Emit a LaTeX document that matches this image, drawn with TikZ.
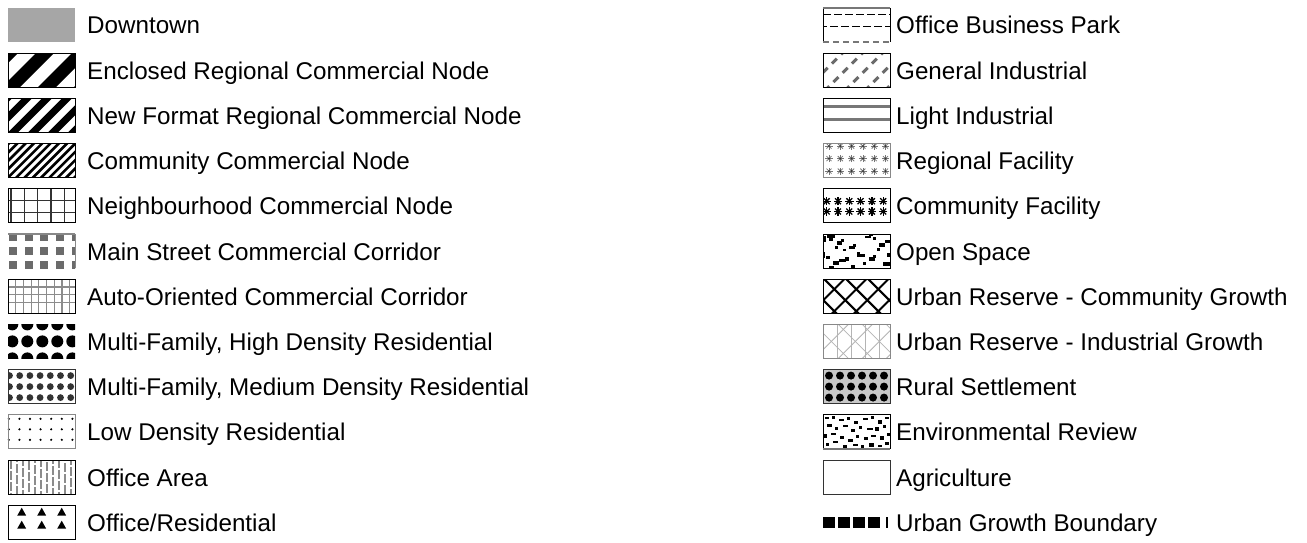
\documentclass[tikz,border=0pt]{standalone}
\usepackage{fontspec}
\setmainfont{Liberation Sans}
\definecolor{dtgray}{HTML}{A6A6A6}
\definecolor{msgray}{HTML}{6B6B6B}
\definecolor{grdgray}{HTML}{8C8C8C}
\definecolor{brdgray}{HTML}{888888}
\definecolor{lingray}{HTML}{777777}
\definecolor{ltgray}{HTML}{B4B4B4}
\definecolor{rsgray}{HTML}{C8C8C8}
\definecolor{darkdot}{HTML}{333333}
\newcommand\myast[3]{\foreach \aa in {0,45,90,135}{\draw (#1,#2) ++(\aa:#3) -- ++(\aa+180:2*#3);}}
\begin{document}
\begin{tikzpicture}[x=1pt,y=-1pt,
  lbl/.style={anchor=base west,inner sep=0pt,font=\fontsize{24.2}{28}\selectfont},
  bord/.style={draw=black,line width=1pt}]
\useasboundingbox (0,0) rectangle (1307,543);
\fill[white] (0,0) rectangle (1307,543);
% ---------------- LEFT COLUMN ----------------
% L0 Downtown
\begin{scope}[shift={(8,8)}]
\fill[dtgray] (0,0) rectangle (67,34);
\end{scope}
% L1 Enclosed
\begin{scope}[shift={(8,53.2)}]
\begin{scope}\clip (0,0) rectangle (67,34);
\foreach \c in {-33,3,39,75}{\draw[line width=12.7] (\c-6,40) -- ++(46,-46);}
\end{scope}
\draw[bord] (0,0) rectangle (67,34);
\end{scope}
% L2 New format
\begin{scope}[shift={(8,98.4)}]
\begin{scope}\clip (0,0) rectangle (67,34);
\foreach \c in {-35,-15,5,25,45,65,85}{\draw[line width=7] (\c-6,40) -- ++(46,-46);}
\end{scope}
\draw[bord] (0,0) rectangle (67,34);
\end{scope}
% L3 Community
\begin{scope}[shift={(8,143.6)}]
\begin{scope}\clip (0,0) rectangle (67,34);
\foreach \k in {-5,...,9}{\draw[line width=2.6] (\k*8.3-6,40) -- ++(46,-46);}
\end{scope}
\draw[bord] (0,0) rectangle (67,34);
\end{scope}
% L4 Neighbourhood
\begin{scope}[shift={(8,188.8)}]
\foreach \x in {3,16.3,29.6,42.9,56.2}{\draw[darkdot,line width=1.2] (\x,0) -- (\x,34);}
\foreach \y in {11.5,24}{\draw[darkdot,line width=1.2] (0,\y) -- (67,\y);}
\draw[bord] (0,0) rectangle (67,34);
\end{scope}
% L5 Main street
\begin{scope}[shift={(8,234)}]
\begin{scope}\clip (0,0) rectangle (67,34);
\foreach \x in {1,16.7,32.4,48.1,63.8}{\foreach \y in {-1,13,27}{\fill[msgray] (\x,\y) rectangle ++(8,8);}}
\end{scope}
\draw[brdgray,line width=1.5] (0,0) -- (67,0);
\draw[brdgray,line width=1] (67,0) -- (67,34);
\end{scope}
% L6 Auto-oriented
\begin{scope}[shift={(8,279.2)}]
\foreach \x in {7.7,15.4,...,62}{\draw[grdgray,line width=1.2] (\x,0) -- (\x,34);}
\foreach \y in {7.7,15.4,...,30}{\draw[grdgray,line width=1.2] (0,\y) -- (67,\y);}
\draw[bord] (0,0) rectangle (67,34);
\end{scope}
% L7 High density
\begin{scope}[shift={(8,324.4)}]
\begin{scope}\clip (0,0) rectangle (67,34);
\foreach \x in {4.3,19.3,34.3,49.3,64.3}{\foreach \y in {0,17,34}{\fill (\x,\y) circle[radius=6];}}
\end{scope}
\end{scope}
% L8 Medium density
\begin{scope}[shift={(8,369.6)}]
\begin{scope}\clip (0,0) rectangle (67,34);
\foreach \x in {1.5,11.7,21.9,32.1,42.3,52.5,62.7}{\foreach \y in {6,17,28}{\fill[darkdot] (\x,\y) circle[radius=3.4];}}
\end{scope}
\draw[darkdot,line width=0.8] (0,0) rectangle (67,34);
\end{scope}
% L9 Low density
\begin{scope}[shift={(8,414.8)}]
\foreach \x in {0.8,11.4,22,32.6,43.2,53.8,64.4}{\foreach \y in {4,14.5,25}{\fill (\x,\y) circle[radius=1.2];}}
\draw[brdgray,line width=1] (0,0) rectangle (67,34);
\end{scope}
% L10 Office area
\begin{scope}[shift={(8,460)}]
\begin{scope}\clip (0,0) rectangle (67,34);
\foreach \k in {0,...,10}{\pgfmathsetmacro\ph{mod(\k*7,11)}\draw[grdgray,line width=1.6,dash pattern=on 9pt off 2pt,dash phase=\ph pt] (3+\k*6,0) -- (3+\k*6,34);}
\end{scope}
\draw[bord] (0,0) rectangle (67,34);
\end{scope}
% L11 Office/Residential
\begin{scope}[shift={(8,505.2)}]
\begin{scope}\clip (0,0) rectangle (67,34);
\foreach \x in {-6.3,13.7,33.7,53.7,73.7}{\foreach \y in {6.5,19.5}{\fill (\x-4.5,\y+4) -- (\x+4.5,\y+4) -- (\x,\y-4) -- cycle;}}
\end{scope}
\draw[bord] (0,0) rectangle (67,34);
\end{scope}
% labels left
\node[lbl] (t0) at (87,34) {Downtown};
\node[lbl] (t1) at (87,79.2) {Enclosed Regional Commercial Node};
\node[lbl] (t2) at (87,124.4) {New Format Regional Commercial Node};
\node[lbl] (t3) at (87,169.6) {Community Commercial Node};
\node[lbl] (t4) at (87,214.8) {Neighbourhood Commercial Node};
\node[lbl] (t5) at (87,260) {Main Street Commercial Corridor};
\node[lbl] (t6) at (87,305.2) {Auto-Oriented Commercial Corridor};
\node[lbl] (t7) at (87,350.4) {Multi-Family, High Density Residential};
\node[lbl] (t8) at (87,395.6) {Multi-Family, Medium Density Residential};
\node[lbl] (t9) at (87,440.8) {Low Density Residential};
\node[lbl] (t10) at (87,486) {Office Area};
\node[lbl] (t11) at (87,531.2) {Office/Residential};
% ---------------- RIGHT COLUMN ----------------
% R0 Office business park
\begin{scope}[shift={(823.3,8)}]
\draw[line width=1,dash pattern=on 8pt off 3pt] (0,6.7) -- (67,6.7);
\draw[line width=1,dash pattern=on 8pt off 3pt,dash phase=4pt] (0,18.7) -- (67,18.7);
\draw[black,line width=1] (0,0) -- (0,34) (67,0) -- (67,34);
\draw[lingray,line width=2.5] (0,0) -- (67,0);
\draw[lingray,line width=2.5,dash pattern=on 6pt off 4pt] (0,34) -- (67,34);
\end{scope}
% R1 General industrial
\begin{scope}[shift={(823.3,53.2)}]
\begin{scope}\clip (0,0) rectangle (67,34);
\foreach \c in {-35,-15,5,25,45,65,85}{\draw[msgray,line width=3,dash pattern=on 7pt off 6pt] (\c-4,38) -- ++(46,-46);}
\end{scope}
\draw[bord] (0,0) rectangle (67,34);
\end{scope}
% R2 Light industrial
\begin{scope}[shift={(823.3,98.4)}]
\draw[lingray,line width=3] (0,8.3) -- (67,8.3) (0,20.7) -- (67,20.7);
\draw[bord] (0,0) rectangle (67,34);
\end{scope}
% R3 Regional facility
\begin{scope}[shift={(823.3,143.6)}]
\begin{scope}\clip (0,0) rectangle (67,34);
\foreach \x in {5.7,17,28.3,39.6,50.9,62.2}{\foreach \y in {2.5,15,27.5}{\begin{scope}[lingray,line width=0.8]\myast{\x}{\y}{3.6}\end{scope}\fill[darkdot] (\x,\y) circle[radius=1];}}
\end{scope}
\draw[brdgray,line width=1] (0,0) rectangle (67,34);
\end{scope}
% R4 Community facility
\begin{scope}[shift={(823.3,188.8)}]
\begin{scope}\clip (0,0) rectangle (67,34);
\foreach \x in {3.4,14.7,26,37.3,48.6,59.9,71.2}{\foreach \y in {12.4,22.7}{\begin{scope}[black,line width=1.3]\myast{\x}{\y}{4.2}\end{scope}}}
\end{scope}
\draw[bord] (0,0) rectangle (67,34);
\end{scope}
% R5 Open space
\begin{scope}[shift={(823.3,234)}]
\begin{scope}\clip (0,0) rectangle (67,34);
\foreach \x/\y/\w/\h in {0/2/3/6,4/1/8/3,6/4/4/3,14/7/5/4,18/5/3/3,26/12/6/3,30/10/3/3,42/2/6/2,46/0/4/2,50/3/3/3,56/9/6/4,62/6/5/3,0/18/2/6,3/22/4/3,10/27/6/4,16/25/7/3,22/23/4/4,34/18/3/5,37/20/5/3,46/23/6/4,50/21/3/3,60/28/7/4,6/32/5/2,28/31/4/3,54/14/3/3,20/15/3/2,40/28/3/3,12/12/3/3,64/19/3/4}{\fill (\x,\y) rectangle ++(\w,\h);}
\end{scope}
\draw[bord] (0,0) rectangle (67,34);
\end{scope}
% R6 Urban reserve community
\begin{scope}[shift={(823.3,279.2)}]
\begin{scope}\clip (0,0) rectangle (67,34);
\foreach \s in {-23,-1,21,43,65,87,109}{\draw[line width=2] (\s+6,-6) -- (\s-40,40);}
\foreach \d in {-43,-21,1,23,45,67}{\draw[line width=2] (\d-6,-6) -- (\d+40,40);}
\end{scope}
\draw[bord] (0,0) rectangle (67,34);
\end{scope}
% R7 Urban reserve industrial
\begin{scope}[shift={(823.3,324.4)}]
\begin{scope}\clip (0,0) rectangle (67,34);
\foreach \x in {14,28,42,56}{\draw[ltgray,line width=1.3] (\x,0) -- (\x,34);}
\foreach \s in {-23,1,25,49,73,97}{\draw[ltgray,line width=0.8] (\s+6,-6) -- (\s-40,40);}
\foreach \d in {-57,-33,-9,15,39,63}{\draw[ltgray,line width=0.8] (\d-6,-6) -- (\d+40,40);}
\end{scope}
\draw[brdgray,line width=1] (0,0) rectangle (67,34);
\end{scope}
% R8 Rural settlement
\begin{scope}[shift={(823.3,369.6)}]
\fill[rsgray] (0,0) rectangle (67,34);
\begin{scope}\clip (0,0) rectangle (67,34);
\foreach \x in {5.7,16.7,27.7,38.7,49.7,60.7}{\foreach \y in {6,17,28}{\fill (\x,\y) circle[radius=4];}}
\end{scope}
\draw[darkdot,line width=1] (0,0) rectangle (67,34);
\end{scope}
% R9 Environmental review
\begin{scope}[shift={(823.3,414.8)}]
\begin{scope}\clip (0,0) rectangle (67,34);
\foreach \x/\y/\w/\h in {2/2/4/2,9/1/3/3,16/4/5/2,24/2/3/3,31/6/4/3,40/3/5/2,48/1/3/3,55/5/4/4,62/2/4/2,4/9/5/3,12/12/3/3,20/10/5/2,28/14/4/3,36/11/3/3,44/13/6/2,52/12/4/4,60/10/3/3,1/19/3/4,8/18/5/2,17/21/4/3,25/24/5/3,33/20/3/3,41/22/4/3,48/20/5/2,57/21/4/4,64/18/3/3,3/28/3/3,10/26/5/2,20/30/4/3,30/29/5/2,38/30/3/3,46/28/5/4,55/30/4/2,62/27/4/3}{\fill (\x,\y) rectangle ++(\w,\h);}
\end{scope}
\draw[bord] (0,0) rectangle (67,34);
\draw[lingray,line width=1.5] (0,34) -- (67,34);
\end{scope}
% R10 Agriculture
\begin{scope}[shift={(823.3,460)}]
\draw[darkdot,line width=1] (0,0) rectangle (67,34);
\end{scope}
% R11 Urban growth boundary
\begin{scope}[shift={(823.3,505.2)}]
\foreach \x in {0,15,30,45}{\fill (\x,11.5) rectangle ++(11.7,11.5);}
\fill (62.7,11.5) rectangle ++(2.3,11.5);
\end{scope}
% labels right
\node[lbl] (r0) at (896,34) {Office Business Park};
\node[lbl] (r1) at (896,79.2) {General Industrial};
\node[lbl] (r2) at (896,124.4) {Light Industrial};
\node[lbl] (r3) at (896,169.6) {Regional Facility};
\node[lbl] (r4) at (896,214.8) {Community Facility};
\node[lbl] (r5) at (896,260) {Open Space};
\node[lbl] (r6) at (896,305.2) {Urban Reserve - Community Growth};
\node[lbl] (r7) at (896,350.4) {Urban Reserve - Industrial Growth};
\node[lbl] (r8) at (896,395.6) {Rural Settlement};
\node[lbl] (r9) at (896,440.8) {Environmental Review};
\node[lbl] (r10) at (896,486) {Agriculture};
\node[lbl] (r11) at (896,531.2) {Urban Growth Boundary};
\end{tikzpicture}
\end{document}
